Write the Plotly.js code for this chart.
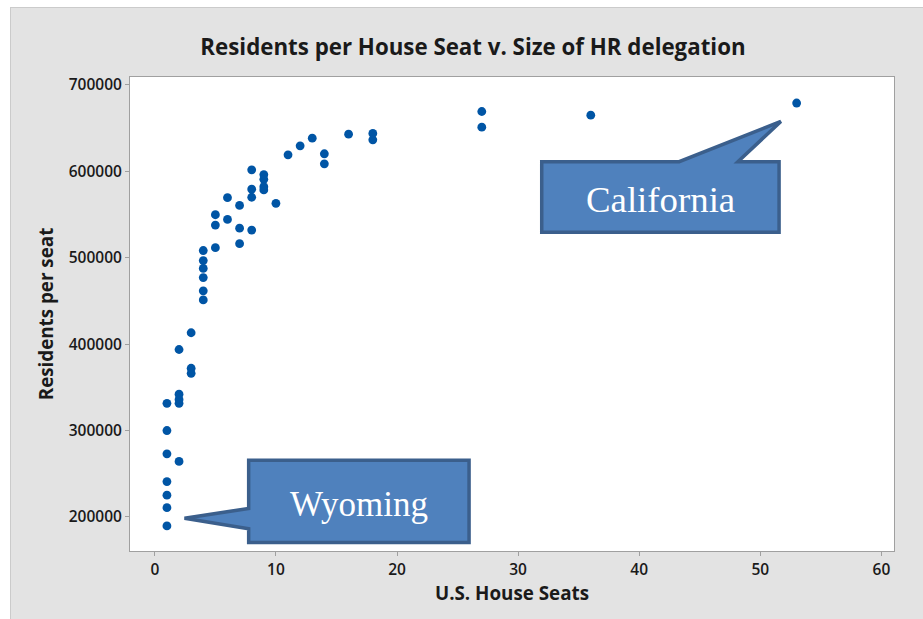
<!DOCTYPE html>
<html>
<head>
<meta charset="utf-8">
<script src="https://cdn.plot.ly/plotly-3.0.1.min.js"></script>
<style>html,body{margin:0;padding:0;background:#fff;}#chart{width:923px;height:619px;}</style>
</head>
<body>
<div id="chart"></div>
<script>
// U.S. House seats per state (x) and residents per seat (y)
const houseSeats = [1,1,1,1,1,1,1, 2,2,2,2,2, 3,3,3, 4,4,4,4,4,4, 5,5,5, 6,6, 7,7,7, 8,8,8,8, 9,9,9,9, 10, 11, 12, 13, 14,14, 16, 18,18, 27,27, 36, 53];
const residentsPerSeat = [
  189600, 210800, 225200, 241000, 273100, 300000, 331400,
  264200, 331500, 336000, 342000, 393700,
  413100, 372000, 366200,
  508200, 496600, 487500, 476900, 461600, 451000,
  511500, 537600, 549600,
  544200, 569300,
  516100, 534100, 560400,
  531800, 569800, 579200, 601500,
  596000, 590600, 582100, 578300,
  562800,
  618900,
  629300,
  638200,
  620100, 608500,
  642800,
  643600, 636200,
  669000, 650900,
  664800,
  678800
];
const xTickVals = [0,10,20,30,40,50,60];
const yTickVals = [200000,300000,400000,500000,600000,700000];
const chartTitle = 'Residents per House Seat v. Size of HR delegation';
const xTitle = 'U.S. House Seats';
const yTitle = 'Residents per seat';
const calloutLabels = ['California', 'Wyoming'];

const W = 923, H = 619;
const M = {l: 130, r: 29, t: 77, b: 68};
const pw = W - M.l - M.r, ph = H - M.t - M.b;
const pxX = p => (p - M.l) / pw;
const pxY = p => (H - M.b - p) / ph;

const markerColor = '#0055a5';
const calloutFill = '#4f81bd';
const calloutLine = '#3b5f8c';

// callout outlines in data coordinates
const caliPath = 'M 31.95,611000 L 43.3,611000 L 51.7,657500 L 48.15,611000 L 51.55,611000 L 51.55,529300 L 31.95,529300 Z';
const wyoPath = 'M 7.75,265700 L 25.95,265700 L 25.95,170600 L 7.75,170600 L 7.75,186300 L 2.45,198500 L 7.75,209900 Z';

const trace = {
  x: houseSeats,
  y: residentsPerSeat,
  type: 'scatter',
  mode: 'markers',
  marker: {color: markerColor, size: 8.8},
  hoverinfo: 'x+y'
};

const axisFont = {family: 'Open Sans, sans-serif', size: 15.5, color: '#1a1a1a', weight: 600};
const titleFont = {family: 'Open Sans, sans-serif', size: 18.8, color: '#1a1a1a', weight: 700};

const layout = {
  width: W, height: H,
  margin: M,
  paper_bgcolor: '#e3e3e3',
  plot_bgcolor: '#ffffff',
  showlegend: false,
  title: {
    text: chartTitle,
    font: {family: 'Open Sans, sans-serif', size: 22.3, color: '#1a1a1a', weight: 700},
    x: 473 / W, xref: 'container', xanchor: 'center',
    y: 1 - 47 / H, yref: 'container', yanchor: 'middle'
  },
  xaxis: {
    range: [-2.05, 61.04],
    tickvals: xTickVals,
    ticks: 'outside', ticklen: 4, tickcolor: '#a0a0a0', tickwidth: 1,
    showline: true, linecolor: '#a0a0a0', linewidth: 1, mirror: true,
    showgrid: false, zeroline: false,
    tickfont: axisFont,
    title: {text: xTitle, font: titleFont, standoff: 8},
    automargin: false
  },
  yaxis: {
    range: [160650, 708900],
    tickvals: yTickVals,
    tickformat: 'd',
    ticks: 'outside', ticklen: 4, tickcolor: '#a0a0a0', tickwidth: 1,
    showline: true, linecolor: '#a0a0a0', linewidth: 1, mirror: true,
    showgrid: false, zeroline: false,
    tickfont: axisFont,
    title: {text: yTitle, font: titleFont, standoff: 10},
    automargin: false
  },
  shapes: [
    // white outer margin strips + frame border
    {type: 'rect', xref: 'paper', yref: 'paper', x0: pxX(-5), x1: pxX(10), y0: pxY(H + 5), y1: pxY(-5), fillcolor: '#ffffff', line: {width: 0}, layer: 'below'},
    {type: 'rect', xref: 'paper', yref: 'paper', x0: pxX(-5), x1: pxX(W + 5), y0: pxY(7), y1: pxY(-5), fillcolor: '#ffffff', line: {width: 0}, layer: 'below'},
    {type: 'line', xref: 'paper', yref: 'paper', x0: pxX(10.5), x1: pxX(10.5), y0: pxY(7), y1: pxY(H + 5), line: {color: '#cbcbcb', width: 1}, layer: 'below'},
    {type: 'line', xref: 'paper', yref: 'paper', x0: pxX(10.5), x1: pxX(W + 5), y0: pxY(7.5), y1: pxY(7.5), line: {color: '#cbcbcb', width: 1}, layer: 'below'},
    // callouts
    {type: 'path', xref: 'x', yref: 'y', path: caliPath, fillcolor: calloutFill, line: {color: calloutLine, width: 3.5}, layer: 'above'},
    {type: 'path', xref: 'x', yref: 'y', path: wyoPath, fillcolor: calloutFill, line: {color: calloutLine, width: 3.5}, layer: 'above'}
  ],
  annotations: [
    {text: calloutLabels[0], x: 41.75, y: 567500, xref: 'x', yref: 'y', showarrow: false,
     font: {family: 'Liberation Serif, serif', size: 36.8, color: '#ffffff'}},
    {text: calloutLabels[1], x: 16.85, y: 214000, xref: 'x', yref: 'y', showarrow: false,
     font: {family: 'Liberation Serif, serif', size: 35, color: '#ffffff'}}
  ]
};

Plotly.newPlot('chart', [trace], layout, {staticPlot: true, displayModeBar: false});
</script>
</body>
</html>
